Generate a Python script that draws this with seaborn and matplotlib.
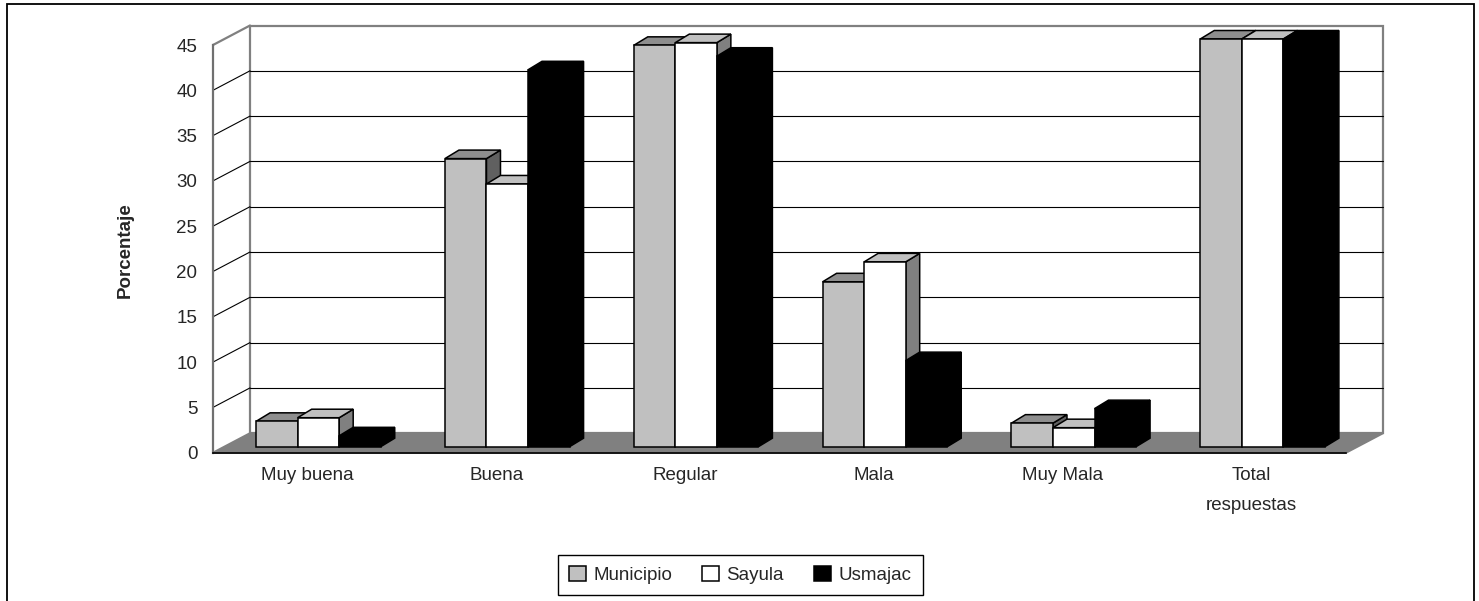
import numpy as np
import pandas as pd
import matplotlib
matplotlib.use("Agg")
import matplotlib.pyplot as plt
import seaborn as sns
from matplotlib.patches import Polygon, Rectangle, Patch
from matplotlib.transforms import IdentityTransform, ScaledTranslation

# data (percent); "Total respuestas" is 100 and gets cut at the axis top
categories = ["Muy buena", "Buena", "Regular", "Mala", "Muy Mala", "Total\nrespuestas"]
series = ["Municipio", "Sayula", "Usmajac"]
municipio = [2.8, 31.8, 44.3, 18.2, 2.6, 100]
sayula = [3.2, 29.0, 44.6, 20.4, 2.1, 100]
usmajac = [1.2, 41.6, 43.1, 9.5, 4.2, 100]
y_ticks = [0, 5, 10, 15, 20, 25, 30, 35, 40, 45]
y_max = 45

front_colors = {"Municipio": "#C0C0C0", "Sayula": "#FFFFFF", "Usmajac": "#000000"}
top_colors = ["#8E8E8E", "#C0C0C0", "#000000"]
side_colors = ["#606060", "#808080", "#000000"]

df = pd.DataFrame({
    "Categoria": categories * 3,
    "Serie": np.repeat(series, len(categories)),
    "Porcentaje": municipio + sayula + usmajac,
})

sns.set_style("white")
plt.rcParams["font.family"] = ["Liberation Sans", "DejaVu Sans"]

W, H = 1479, 601
fig = plt.figure(figsize=(W / 100, H / 100), dpi=100)
ax = fig.add_axes([213 / W, 1 - 452.7 / H, (1346 - 213) / W, (452.7 - 45) / H])

sns.barplot(data=df, x="Categoria", y="Porcentaje", hue="Serie", order=categories,
            hue_order=series, palette=front_colors, width=0.66, saturation=1,
            edgecolor="black", linewidth=1.1, errorbar=None, legend=False, ax=ax)

ax.set_xlim(-0.5, len(categories) - 0.5)
ax.set_ylim(0, y_max)

# pseudo 3D geometry (pixels)
bar_shift = (11, 6)     # bar front face sits a bit behind the front axis
bar_depth = (14, 8.5)   # depth of each column
wall_depth = (37, 19.5)  # depth of floor / side wall


def disp(x, y, off=(0, 0)):
    p = ax.transData.transform((x, y))
    return (p[0] + off[0], p[1] + off[1])


shift = ScaledTranslation(bar_shift[0] / 100, bar_shift[1] / 100, fig.dpi_scale_trans)
for p in list(ax.patches):
    x0, w = p.get_x(), p.get_width()
    xc = x0 + w / 2
    k = int(round((xc - round(xc)) / w)) + 1
    h = min(p.get_height(), y_max)
    p.set_height(h)
    p.set_transform(ax.transData + shift)
    p.set_clip_on(False)
    p.set_zorder(3 + 2 * k)

    xl, yt = disp(x0, h, bar_shift)
    xr, yb = disp(x0 + w, 0, bar_shift)
    dx, dy = bar_depth
    top = Polygon([(xl, yt), (xr, yt), (xr + dx, yt + dy), (xl + dx, yt + dy)],
                  closed=True, transform=IdentityTransform(), facecolor=top_colors[k],
                  edgecolor="black", linewidth=1.1, zorder=2 + 2 * k, clip_on=False)
    side = Polygon([(xr, yb), (xr, yt), (xr + dx, yt + dy), (xr + dx, yb + dy)],
                   closed=True, transform=IdentityTransform(), facecolor=side_colors[k],
                   edgecolor="black", linewidth=1.1, zorder=2 + 2 * k, clip_on=False)
    ax.add_patch(side)
    ax.add_patch(top)

# floor, back wall, side wall
x_lo, x_hi = -0.5, len(categories) - 0.5
floor = Polygon([disp(x_lo, 0), disp(x_hi, 0), disp(x_hi, 0, wall_depth), disp(x_lo, 0, wall_depth)],
                closed=True, transform=IdentityTransform(), facecolor="#808080",
                edgecolor="#808080", linewidth=1.5, zorder=1, clip_on=False)
ax.add_patch(floor)
bl = disp(x_lo, 0, wall_depth)
tr = disp(x_hi, y_max, wall_depth)
back = Rectangle(bl, tr[0] - bl[0], tr[1] - bl[1], transform=IdentityTransform(),
                 facecolor="white", edgecolor="#808080", linewidth=1.6, zorder=0.6, clip_on=False)
ax.add_patch(back)
for v in y_ticks[1:-1]:
    a, b = disp(x_lo, v, wall_depth), disp(x_hi, v, wall_depth)
    ax.plot([a[0], b[0]], [a[1], b[1]], color="black", lw=0.8, transform=IdentityTransform(),
            zorder=0.8, clip_on=False)
    c = disp(x_lo, v)
    ax.plot([c[0], a[0]], [c[1], a[1]], color="black", lw=0.8, transform=IdentityTransform(),
            zorder=0.8, clip_on=False)
c, a = disp(x_lo, y_max), disp(x_lo, y_max, wall_depth)
ax.plot([c[0], a[0]], [c[1], a[1]], color="#808080", lw=1.6, transform=IdentityTransform(),
        zorder=0.8, clip_on=False)

# axes styling
for s in ["top", "right"]:
    ax.spines[s].set_visible(False)
ax.spines["left"].set_color("#707070")
ax.spines["left"].set_linewidth(1.6)
ax.spines["bottom"].set_color("black")
ax.spines["bottom"].set_linewidth(1.2)
ax.spines["left"].set_zorder(12)
ax.spines["bottom"].set_zorder(12)
ax.set_facecolor("none")

ax.set_yticks(y_ticks)
ax.tick_params(axis="y", length=5.8, width=0.9, color="black", labelsize=13.5, pad=5.5)
ax.set_xticks(np.arange(x_lo, x_hi + 0.01, 1.0), labels=[])
ax.set_xticks(range(len(categories)), labels=categories, minor=True)
ax.tick_params(axis="x", which="major", length=4.5, width=0.9, color="black", direction="out")
ax.tick_params(axis="x", which="minor", length=0, labelsize=13.5, pad=10.5)
for lbl in ax.get_xticklabels(minor=True):
    lbl.set_linespacing(2.0)

ax.set_xlabel("")
ax.set_ylabel("Porcentaje", fontsize=13.5, fontweight="bold")
ax.yaxis.set_label_coords((134 - 213) / 1133, (452.7 - 250) / 407.7)

# legend
handles = [Patch(facecolor=front_colors[s], edgecolor="black", linewidth=1.1) for s in series]
fig.legend(handles, series, loc="center", bbox_to_anchor=(740 / W, 1 - 575 / H), ncol=3,
           fontsize=13.5, frameon=True, fancybox=False, edgecolor="black", framealpha=1,
           handlelength=0.9, handleheight=0.9, handletextpad=0.4, columnspacing=1.6,
           borderpad=0.6)

# outer chart border
fig.add_artist(Rectangle((6.5 / W, -0.02), (1473.5 - 6.5) / W, 1.02 - 4 / H,
                         transform=fig.transFigure, fill=False, edgecolor="black", linewidth=1.3))

fig.savefig("out.png", dpi=100)
